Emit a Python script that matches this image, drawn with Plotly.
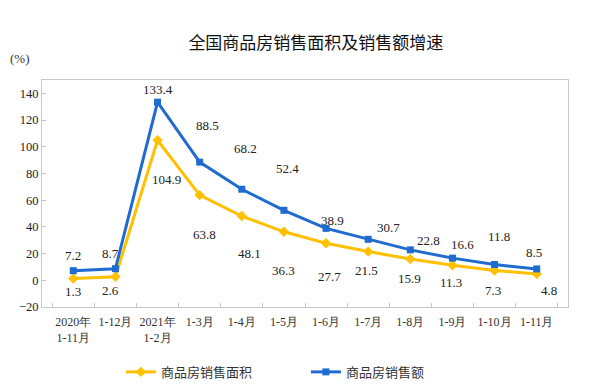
import plotly.graph_objects as go

categories = ["2020年<br>1-11月", "1-12月", "2021年<br>1-2月", "1-3月", "1-4月", "1-5月",
              "1-6月", "1-7月", "1-8月", "1-9月", "1-10月", "1-11月"]
area = [1.3, 2.6, 104.9, 63.8, 48.1, 36.3, 27.7, 21.5, 15.9, 11.3, 7.3, 4.8]
sales = [7.2, 8.7, 133.4, 88.5, 68.2, 52.4, 38.9, 30.7, 22.8, 16.6, 11.8, 8.5]

# label pixel offsets (dx, dy) relative to each point
area_off = [(0, -13), (-5, -14), (9, -39), (5, -39), (8, -37), (0, -39),
            (3, -33), (-2, -19), (-1, -19), (-1, -17), (-2, -20), (12, -17)]
sales_off = [(0, 15), (-5, 15), (0, 13), (8, 37), (4, 41), (4, 42),
             (6, 8), (20, 12), (18, 9), (10, 14), (4, 28), (-3, 16)]

BLUE = "#1F6BCF"
YELLOW = "#FFC000"
serif = "Liberation Serif"
cjk = "Noto Sans CJK SC"

fig = go.Figure()
fig.add_trace(go.Scatter(x=categories, y=area, mode="lines+markers", name="商品房销售面积",
                         line=dict(color=YELLOW, width=3),
                         marker=dict(symbol="diamond", size=8, color=YELLOW)))
fig.add_trace(go.Scatter(x=categories, y=sales, mode="lines+markers", name="商品房销售额",
                         line=dict(color=BLUE, width=3),
                         marker=dict(symbol="square", size=7, color=BLUE)))

for c, v, (dx, dy) in zip(categories, area, area_off):
    fig.add_annotation(x=c, y=v, text=f"{v}", showarrow=False, xshift=dx, yshift=dy,
                       font=dict(family=serif, size=13, color="#222"))
for c, v, (dx, dy) in zip(categories, sales, sales_off):
    fig.add_annotation(x=c, y=v, text=f"{v}", showarrow=False, xshift=dx, yshift=dy,
                       font=dict(family=serif, size=13, color="#222"))

fig.add_annotation(xref="paper", yref="paper", x=-0.0646, y=1.055, xanchor="left", yanchor="bottom",
                   text="(%)", showarrow=False, font=dict(family=serif, size=13, color="#333"))

fig.update_layout(
    width=582, height=377,
    margin=dict(l=34, r=22, t=72, b=78, autoexpand=False),
    paper_bgcolor="white", plot_bgcolor="white",
    title=dict(text="全国商品房销售面积及销售额增速", x=0.529, xanchor="center", y=0.907, yanchor="middle",
               font=dict(family=cjk, size=17, color="#111")),
    showlegend=True,
    legend=dict(orientation="h", x=0.15, xanchor="left", y=-0.286, yanchor="middle",
                entrywidth=140, entrywidthmode="pixels",
                font=dict(family=cjk, size=13, color="#333")),
    xaxis=dict(type="category", showline=True, linecolor="#c8c8c8", mirror=True, linewidth=1,
               ticks="inside", tickson="boundaries", ticklen=4, tickcolor="#c8c8c8",
               tickangle=0, automargin=False, ticklabelstandoff=4,
               tickfont=dict(family=serif, size=12, color="#333"), showgrid=False),
    yaxis=dict(range=[-20, 150], tickvals=[-20, 0, 20, 40, 60, 80, 100, 120, 140],
               showline=True, linecolor="#c8c8c8", mirror=True, linewidth=1,
               ticks="inside", ticklen=4, tickcolor="#c8c8c8", automargin=False,
               showgrid=False, zeroline=False,
               tickfont=dict(family=serif, size=12.5, color="#222")),
)

fig.write_html("out.html")
